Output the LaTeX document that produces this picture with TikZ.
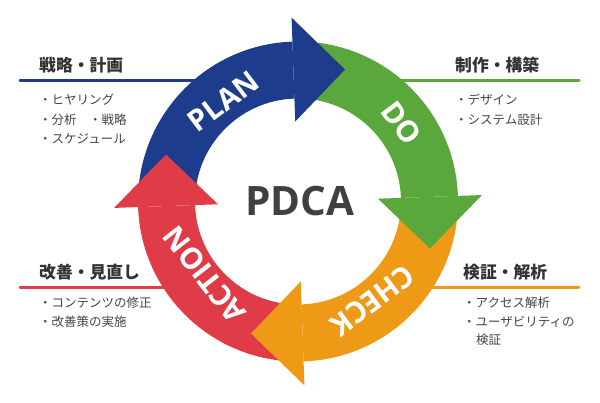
\documentclass[tikz,border=0pt]{standalone}
\usepackage{fontspec}
\newfontfamily\jp{Noto Sans CJK JP}
\newfontfamily\lat{Open Sans}
\definecolor{cblue}{HTML}{1E3C8C}
\definecolor{cgreen}{HTML}{5AA83C}
\definecolor{corange}{HTML}{EE9A17}
\definecolor{cred}{HTML}{E03C48}
\definecolor{ctitle}{HTML}{333333}
\definecolor{ctext}{HTML}{444444}
\definecolor{cpdca}{HTML}{404040}
\begin{document}
\begin{tikzpicture}[x=1pt,y=1pt,
  title/.style={anchor=west, inner sep=0, font=\jp\bfseries\fontsize{16.8}{20}\selectfont, text=ctitle},
  item/.style={anchor=west, inner sep=0, font=\jp\fontsize{12.5}{15}\selectfont, text=ctext},
  uline/.style={line width=3pt, line cap=round},
  word/.style={text=white, font=\lat\bfseries\fontsize{29.5}{31}\selectfont, inner sep=0},
]
\useasboundingbox (0,0) rectangle (600,403);
% underlines
\coordinate (bA) at (20,322); \coordinate (bB) at (230,322);
\coordinate (gA) at (380,322); \coordinate (gB) at (579,322);
\coordinate (rA) at (20,115); \coordinate (rB) at (200,115);
\coordinate (oA) at (396,115); \coordinate (oB) at (579,115);
\draw[uline, cblue] (bA) -- (bB);
\draw[uline, cgreen] (gA) -- (gB);
\draw[uline, cred] (rA) -- (rB);
\draw[uline, corange] (oA) -- (oB);
% cycle
\begin{scope}[shift={(298,201.5)}]
\fill[cblue] (180:160) arc[start angle=180,end angle=92,radius=160] -- (92:103) arc[start angle=92,end angle=180,radius=103] -- cycle;
\fill[cgreen] (90:160) arc[start angle=90,end angle=2,radius=160] -- (2:103) arc[start angle=2,end angle=90,radius=103] -- cycle;
\fill[corange] (0:160) arc[start angle=0,end angle=-88,radius=160] -- (-88:103) arc[start angle=-88,end angle=0,radius=103] -- cycle;
\fill[cred] (270:160) arc[start angle=270,end angle=182,radius=160] -- (182:103) arc[start angle=182,end angle=270,radius=103] -- cycle;
\fill[cblue] (92:184) -- (47,132) -- (92:80) -- cycle;
\fill[cgreen] (2:184) -- (132,-47) -- (2:80) -- cycle;
\fill[corange] (-88:184) -- (-47,-132) -- (-88:80) -- cycle;
\fill[cred] (182:184) -- (-132,47) -- (182:80) -- cycle;
\node[word, rotate=37] (plan) at (126.7:125) {PLAN};
\node[word, rotate=-53] (do) at (37:130) {DO};
\node[word, rotate=-143] (check) at (-53:124) {CHECK};
\node[word, rotate=128] (action) at (218:119) {ACTION};
\node[font=\lat\bfseries\fontsize{40.5}{44}\selectfont, text=cpdca, inner sep=0] (pdca) at (2,0) {PDCA};
\end{scope}
% texts
\node[title] (t1) at (39,338) {戦略・計画};
\node[item] (i11) at (39,303) {・ヒヤリング};
\node[item] (i12) at (39,283) {・分析　・戦略};
\node[item] (i13) at (39,264) {・スケジュール};
\node[title] (t2) at (455,338) {制作・構築};
\node[item] (i21) at (455,303) {・デザイン};
\node[item] (i22) at (455,283) {・システム設計};
\node[title] (t3) at (39,131) {改善・見直し};
\node[item] (i31) at (39,100) {・コンテンツの修正};
\node[item] (i32) at (39,81) {・改善策の実施};
\node[title] (t4) at (463,131) {検証・解析};
\node[item] (i41) at (463,100) {・アクセス解析};
\node[item] (i42) at (463,81) {・ユーザビリティの};
\node[item] (i43) at (476,63) {検証};
\end{tikzpicture}
\end{document}
